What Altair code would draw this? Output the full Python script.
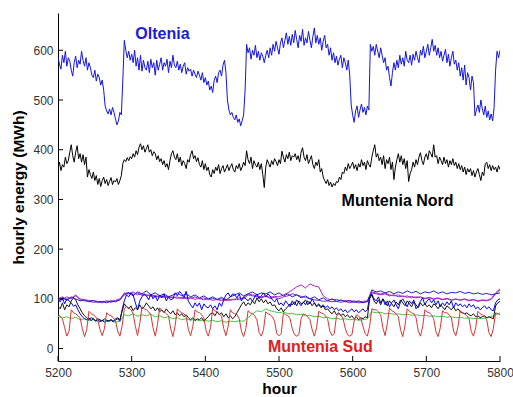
import altair as alt
import pandas as pd

# Hourly energy per region, hours 5200-5800
OLTENIA_STEP = 2
oltenia = [
    585, 572, 562, 590, 575, 598, 568, 585, 578, 560, 548, 575, 588, 565, 580, 572, 598, 580, 568, 585,
    560, 575, 565, 550, 545, 560, 538, 552, 545, 530, 540, 520, 488, 478, 472, 482, 470, 485, 475, 462,
    450, 458, 475, 470, 540, 620, 600, 585, 598, 580, 592, 575, 600, 568, 585, 560, 590, 558, 580, 565,
    560, 578, 555, 582, 565, 575, 550, 580, 560, 572, 585, 560, 575, 568, 582, 555, 578, 565, 590, 570,
    565, 578, 560, 572, 555, 568, 575, 552, 565, 558, 562, 548, 560, 552, 545, 558, 550, 540, 555, 535,
    545, 530, 538, 520, 528, 515, 540, 548, 535, 555, 560, 548, 570, 580, 555, 500, 480, 470, 475, 465,
    460, 470, 455, 462, 448, 458, 470, 520, 612, 595, 605, 582, 600, 590, 610, 585, 598, 580, 595, 588,
    575, 590, 600, 585, 605, 590, 612, 598, 618, 605, 592, 615, 625, 605, 620, 635, 612, 628, 610, 632,
    615, 640, 622, 605, 630, 618, 642, 610, 625, 615, 638, 620, 605, 628, 645, 615, 630, 612, 625, 600,
    618, 630, 605, 612, 590, 605, 580, 595, 575, 588, 570, 582, 590, 565, 585, 575, 560, 580, 550, 490,
    470, 455, 478, 488, 465, 480, 492, 475, 485, 470, 488, 480, 612, 598, 608, 590, 612, 598, 585, 605,
    590, 575, 585, 560, 568, 545, 528, 555, 575, 560, 580, 565, 590, 572, 585, 568, 598, 580, 575, 590,
    570, 592, 580, 598, 585, 575, 600, 590, 608, 585, 598, 612, 590, 605, 622, 598, 610, 590, 605, 585,
    598, 578, 590, 602, 575, 592, 568, 585, 598, 572, 580, 560, 575, 548, 565, 540, 570, 530, 555, 545,
    520, 548, 535, 468, 480, 490, 475, 500, 482, 470, 488, 465, 478, 460, 472, 458, 485, 560, 598, 585,
    600,
]

NORD_STEP = 2
muntenia_nord = [
    362, 375, 358, 370, 365, 385, 372, 378, 395, 410, 388, 375, 395, 408, 382, 392, 375, 390, 370, 385,
    345, 360, 350, 342, 355, 338, 348, 330, 342, 326, 338, 345, 332, 340, 328, 336, 344, 330, 338, 335,
    342, 330, 338, 348, 372, 380, 376, 384, 378, 386, 382, 392, 385, 398, 390, 405, 412, 400, 408, 395,
    402, 410, 395, 400, 388, 396, 392, 380, 388, 376, 382, 370, 378, 365, 372, 360, 378, 392, 398, 385,
    380, 392, 375, 385, 368, 378, 372, 362, 380, 375, 390, 398, 382, 388, 376, 384, 370, 365, 378, 360,
    372, 358, 365, 350, 345, 360, 352, 365, 358, 370, 352, 362, 368, 355, 362, 370, 358, 366, 372, 360,
    355, 368, 362, 372, 358, 365, 375, 368, 398, 380, 372, 385, 362, 378, 370, 365, 375, 360, 372, 350,
    324, 365, 380, 372, 365, 378, 370, 382, 376, 368, 380, 372, 397, 385, 375, 390, 382, 395, 378, 388,
    385, 392, 380, 388, 375, 395, 404, 385, 378, 390, 372, 380, 388, 370, 362, 375, 368, 380, 355, 362,
    345, 338, 332, 340, 328, 335, 325, 332, 328, 336, 334, 345, 340, 355, 352, 365, 358, 372, 362, 368,
    375, 362, 370, 358, 372, 365, 380, 368, 375, 360, 378, 370, 365, 385, 398, 410, 385, 392, 378, 385,
    370, 388, 362, 380, 372, 385, 360, 375, 340, 365, 380, 392, 375, 388, 370, 382, 362, 378, 336, 352,
    360, 375, 365, 380, 370, 385, 394, 378, 370, 385, 392, 380, 398, 392, 385, 410, 385, 388, 372, 385,
    378, 370, 385, 372, 380, 365, 378, 370, 382, 368, 375, 362, 372, 360, 368, 355, 365, 350, 362, 355,
    362, 348, 358, 345, 355, 362, 350, 338, 355, 348, 372, 375, 362, 370, 358, 368, 360, 365, 355, 368,
    360,
]

SUD_STEP = 3
muntenia_sud = [
    68, 65, 60, 42, 25, 35, 78, 72,
    70, 66, 62, 40, 24, 38, 75, 70,
    68, 64, 58, 38, 26, 40, 72, 68,
    66, 62, 56, 35, 25, 45, 80, 85,
    82, 78, 70, 45, 26, 50, 84, 80,
    78, 74, 68, 42, 25, 48, 82, 76,
    74, 70, 66, 40, 24, 46, 80, 75,
    72, 70, 64, 38, 26, 44, 78, 74,
    72, 68, 62, 36, 25, 42, 80, 76,
    74, 70, 65, 40, 26, 45, 78, 72,
    70, 68, 60, 35, 24, 40, 76, 72,
    70, 66, 58, 32, 25, 38, 74, 70,
    68, 64, 55, 30, 26, 30, 72, 68,
    66, 60, 40, 28, 25, 28, 60, 70,
    68, 64, 58, 38, 25, 42, 75, 72,
    70, 66, 60, 35, 26, 30, 65, 70,
    68, 60, 40, 28, 25, 28, 55, 68,
    66, 60, 45, 30, 25, 45, 80, 78,
    78, 74, 68, 42, 26, 50, 82, 76,
    74, 70, 64, 38, 24, 46, 80, 75,
    72, 70, 62, 36, 25, 44, 78, 74,
    72, 68, 60, 34, 24, 42, 76, 72,
    72, 68, 62, 35, 26, 44, 76, 72,
    70, 66, 60, 34, 25, 42, 75, 70,
    68, 64, 58, 32, 24, 40, 72, 70,
    68,
]

BLUE_STEP = 3
blue_region = [
    98, 94, 102, 90, 100, 96, 92, 85,
    88, 78, 70, 64, 60, 58, 62, 56,
    60, 55, 58, 54, 57, 53, 56, 55,
    58, 54, 57, 60, 55, 78, 96, 108,
    104, 112, 108, 92, 78, 96, 104, 110,
    106, 98, 110, 100, 106, 96, 108, 102,
    110, 96, 104, 98, 100, 112, 106, 115,
    110, 102, 115, 95, 88, 82, 92, 85,
    92, 78, 90, 84, 82, 88, 80, 86,
    78, 92, 85, 98, 108, 112, 104, 110,
    108, 102, 110, 96, 104, 100, 96, 102,
    95, 104, 110, 100, 106, 112, 104, 110,
    106, 98, 94, 100, 88, 92, 86, 96,
    90, 84, 96, 88, 98, 92, 86, 94,
    88, 96, 90, 100, 92, 86, 90, 84,
    88, 82, 86, 80, 84, 78, 82, 76,
    80, 74, 78, 72, 76, 80, 74, 78,
    72, 76, 80, 74, 78, 104, 110, 100,
    96, 104, 92, 100, 88, 96, 84, 92,
    98, 88, 80, 94, 100, 92, 84, 96,
    90, 98, 80, 86, 95, 102, 88, 96,
    100, 92, 98, 88, 96, 84, 92, 86,
    94, 88, 96, 82, 92, 86, 90, 84,
    88, 82, 90, 84, 88, 80, 84, 78,
    82, 86, 80, 84, 78, 76, 92, 98,
    100,
]

BLACK_STEP = 3
black_region = [
    85, 80, 92, 78, 88, 84, 96, 102,
    98, 88, 80, 72, 66, 62, 58, 62,
    60, 56, 60, 58, 55, 60, 57, 56,
    58, 55, 60, 62, 58, 75, 90, 84,
    80, 86, 76, 82, 78, 88, 80, 84,
    92, 86, 80, 84, 76, 82, 74, 78,
    72, 80, 74, 70, 76, 68, 72, 66,
    70, 64, 68, 62, 58, 62, 56, 60,
    58, 62, 55, 60, 64, 70, 72, 66,
    74, 68, 72, 64, 70, 62, 66, 60,
    64, 72, 80, 88, 94, 86, 92, 88,
    96, 90, 102, 94, 100, 92, 98, 90,
    94, 86, 88, 80, 76, 82, 74, 80,
    84, 90, 88, 94, 86, 96, 90, 92,
    98, 88, 94, 86, 92, 84, 88, 82,
    86, 78, 80, 74, 70, 76, 68, 72,
    66, 70, 64, 68, 62, 66, 60, 64,
    58, 62, 60, 64, 62, 100, 108, 96,
    90, 98, 88, 100, 94, 86, 96, 90,
    84, 94, 88, 98, 92, 86, 96, 90,
    84, 94, 88, 82, 92, 86, 90, 84,
    88, 82, 90, 86, 80, 88, 84, 78,
    86, 82, 78, 84, 76, 80, 74, 72,
    70, 72, 68, 66, 70, 64, 66, 62,
    64, 66, 62, 64, 62, 60, 86, 92,
    95,
]

LOW_STEP = 6
green_region = [
    65, 62, 64, 60, 63, 58, 60, 56, 58, 55,
    57, 54, 56, 53, 55, 68, 66, 70, 65, 68,
    66, 69, 64, 66, 62, 64, 60, 62, 58, 60,
    57, 59, 56, 58, 55, 57, 54, 56, 53, 55,
    54, 56, 55, 62, 70, 76, 74, 80, 76, 74,
    72, 74, 70, 71, 68, 69, 66, 67, 64, 65,
    62, 63, 60, 61, 59, 60, 58, 59, 57, 58,
    60, 74, 72, 73, 70, 71, 69, 70, 68, 69,
    67, 68, 66, 67, 65, 66, 64, 65, 63, 64,
    62, 63, 61, 62, 60, 61, 60, 62, 64, 68,
    72,
]

violet_region = [
    102, 98, 104, 100, 108, 98, 96, 95, 93, 94,
    92, 95, 93, 96, 98, 112, 110, 114, 108, 110,
    106, 108, 104, 106, 103, 105, 102, 104, 100, 103,
    101, 104, 100, 102, 99, 101, 98, 100, 97, 99,
    98, 102, 100, 108, 106, 104, 102, 105, 101, 103,
    100, 104, 106, 110, 108, 105, 103, 100, 98, 97,
    95, 96, 94, 95, 93, 95, 92, 94, 92, 93,
    94, 112, 110, 108, 110, 106, 108, 104, 106, 103,
    105, 102, 104, 101, 103, 100, 102, 99, 101, 98,
    100, 97, 99, 96, 98, 95, 97, 96, 99, 110,
    118,
]

magenta_region = [
    100, 104, 99, 102, 106, 100, 98, 97, 96, 95,
    94, 96, 95, 97, 100, 110, 113, 109, 112, 107,
    109, 105, 107, 103, 105, 102, 104, 101, 103, 100,
    102, 99, 101, 98, 100, 97, 99, 96, 98, 97,
    100, 98, 103, 110, 108, 106, 104, 106, 103, 105,
    104, 108, 112, 118, 124, 128, 122, 130, 126, 124,
    106, 100, 98, 99, 96, 97, 95, 96, 94, 95,
    96, 114, 112, 110, 112, 108, 106, 108, 104, 106,
    102, 104, 103, 100, 102, 99, 101, 98, 100, 97,
    99, 98, 100, 97, 99, 96, 98, 97, 100, 112,
    120,
]

navy_region = [
    95, 102, 97, 104, 100, 96, 98, 94, 97, 93,
    95, 92, 96, 94, 98, 108, 112, 106, 114, 110,
    116, 108, 112, 106, 110, 104, 108, 112, 106, 110,
    104, 108, 102, 106, 100, 104, 99, 103, 98, 104,
    108, 112, 106, 110, 114, 108, 112, 110, 114, 108,
    112, 106, 110, 104, 108, 102, 106, 100, 104, 98,
    102, 96, 100, 95, 98, 94, 97, 93, 96, 92,
    95, 118, 114, 116, 112, 115, 110, 114, 111, 116,
    112, 115, 110, 114, 112, 116, 111, 114, 110, 113,
    112, 115, 111, 113, 110, 112, 109, 111, 108, 110,
    112,
]

x_ticks = [5200, 5300, 5400, 5500, 5600, 5700, 5800]
y_ticks = [0, 100, 200, 300, 400, 500, 600]

labels = pd.DataFrame({
    "hour": [5305, 5585, 5485],
    "mwh": [633, 297, 3],
    "text": ["Oltenia", "Muntenia Nord", "Muntenia Sud"],
    "color": ["#1a1ae0", "#000000", "#e02020"],
})

START = 5200
W, H = 442, 348
FONT = "Liberation Sans"


def frame(values, step):
    return pd.DataFrame({
        "hour": [START + step * i for i in range(len(values))],
        "mwh": values,
    })


x_scale = alt.Scale(domain=[5200, 5800], nice=False, zero=False)
y_scale = alt.Scale(domain=[-25, 675], nice=False, zero=False)
x_axis = alt.Axis(values=x_ticks, title="hour", ticks=False, labelPadding=6,
                  titlePadding=3, format="d", labelFlush=False)
y_axis = alt.Axis(values=y_ticks, title="hourly energy (MWh)", ticks=False,
                  labelPadding=5, titlePadding=6, format="d", labelFlush=False)


def line(values, step, color, width=1.0):
    return alt.Chart(frame(values, step)).mark_line(
        color=color, strokeWidth=width, clip=True
    ).encode(
        x=alt.X("hour:Q", scale=x_scale, axis=x_axis),
        y=alt.Y("mwh:Q", scale=y_scale, axis=y_axis),
    )


series = [
    line(oltenia, OLTENIA_STEP, "#1414e0"),
    line(muntenia_nord, NORD_STEP, "#000000"),
    line(green_region, LOW_STEP, "#3ccc3c"),
    line(violet_region, LOW_STEP, "#7a30d8"),
    line(magenta_region, LOW_STEP, "#c020c0"),
    line(navy_region, LOW_STEP, "#2020c8"),
    line(blue_region, BLUE_STEP, "#0000ff"),
    line(black_region, BLACK_STEP, "#111111"),
    line(muntenia_sud, SUD_STEP, "#d83434"),
]

# inward tick marks
y_tick_marks = alt.Chart(pd.DataFrame({"t": y_ticks})).mark_rule(
    color="black", strokeWidth=1
).encode(
    y=alt.Y("t:Q", scale=y_scale, axis=y_axis),
    x=alt.value(0),
    x2=alt.value(5),
)
x_tick_marks = alt.Chart(pd.DataFrame({"t": x_ticks})).mark_rule(
    color="black", strokeWidth=1
).encode(
    x=alt.X("t:Q", scale=x_scale, axis=x_axis),
    y=alt.value(H),
    y2=alt.value(H - 5),
)

region_labels = alt.Chart(labels).mark_text(
    font=FONT, fontSize=16, fontWeight="bold", align="left", baseline="middle"
).encode(
    x=alt.X("hour:Q", scale=x_scale, axis=x_axis),
    y=alt.Y("mwh:Q", scale=y_scale, axis=y_axis),
    text="text:N",
    color=alt.Color("color:N", scale=None),
)

chart = alt.layer(
    *series, y_tick_marks, x_tick_marks, region_labels
).properties(
    width=W,
    height=H,
    padding={"left": 58, "top": 13, "right": 13, "bottom": 36},
    autosize=alt.AutoSizeParams(type="none"),
    background="white",
).configure_view(
    stroke=None
).configure_axis(
    grid=False,
    domainColor="black",
    domainWidth=1,
    labelFont=FONT,
    labelFontSize=12,
    labelColor="#333333",
    titleFont=FONT,
    titleFontSize=15.5,
    titleFontWeight="bold",
    titleColor="black",
)

chart.save("out.html", embed_options={"renderer": "svg", "actions": False})
